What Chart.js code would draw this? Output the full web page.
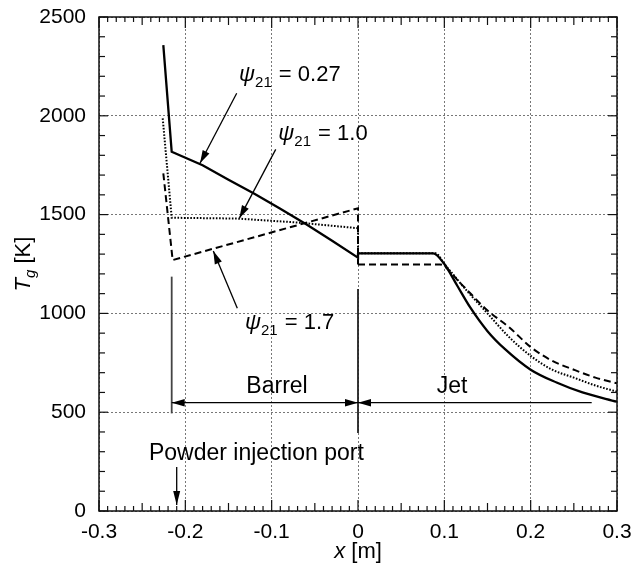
<!DOCTYPE html>
<html>
<head>
<meta charset="utf-8">
<script src="https://cdn.jsdelivr.net/npm/chart.js@4.4.1/dist/chart.umd.min.js"></script>
<style>
  html, body { margin: 0; padding: 0; background: #fff; }
  canvas { display: block; }
</style>
</head>
<body>
<canvas id="tg" width="633" height="574"></canvas>
<script>
// Gas temperature along the torch axis: barrel (x < 0) and free jet (x > 0)
const xTicks = [-0.3, -0.2, -0.1, 0, 0.1, 0.2, 0.3];
const xTickLabels = ['-0.3', '-0.2', '-0.1', '0', '0.1', '0.2', '0.3'];
const yTicks = [0, 500, 1000, 1500, 2000, 2500];
const yTickLabels = ['0', '500', '1000', '1500', '2000', '2500'];

// psi21 = 0.27 (solid); barrel ends with the step at the exit
const xBarrel027 = [-0.2255, -0.2158, -0.18, -0.15, -0.12, -0.09, -0.06, -0.03, 0, 0];
const tBarrel027 = [2358, 1818, 1750, 1676, 1605, 1530, 1451, 1368, 1282, 1304];
const xJet027 = [0, 0.087, 0.1, 0.115, 0.13, 0.15, 0.17, 0.2, 0.23, 0.26, 0.3];
const tJet027 = [1304, 1304, 1250, 1140, 1030, 910, 820, 715, 650, 600, 553];

// psi21 = 1.0 (dotted)
const xBarrel10 = [-0.2262, -0.2158, -0.14, -0.07, 0, 0];
const tBarrel10 = [1987, 1484, 1480, 1460, 1431, 1304];
const xJet10 = [0, 0.09, 0.1, 0.11, 0.125, 0.15, 0.175, 0.2, 0.225, 0.25, 0.275, 0.3];
const tJet10 = [1304, 1304, 1250, 1198, 1120, 1000, 880, 785, 715, 675, 635, 604];

// psi21 = 1.7 (dashed)
const xBarrel17 = [-0.2255, -0.2147, 0, 0];
const tBarrel17 = [1709, 1270, 1532, 1248];
const xJet17 = [0, 0.095, 0.105, 0.115, 0.126, 0.15, 0.175, 0.2, 0.225, 0.25, 0.275, 0.3];
const tJet17 = [1248, 1248, 1220, 1170, 1120, 1015, 930, 830, 760, 715, 675, 646];

const FONT = '"Liberation Sans", Arial, Helvetica, sans-serif';

function pts(xs, ys) {
  return xs.map((x, i) => ({x: x, y: ys[i]}));
}

function line(label, xs, ys, width, dash, smooth) {
  return {
    label: label,
    data: pts(xs, ys),
    showLine: true,
    borderColor: '#000',
    borderWidth: width,
    borderDash: dash,
    pointRadius: 0,
    tension: smooth ? 0.4 : 0,
    cubicInterpolationMode: smooth ? 'monotone' : 'default',
    fill: false
  };
}

// callouts and region markers, placed in data units
const notes = {
  psi: [
    {value: '0.27', tx: -0.1378, ty: 2178, ax: -0.1405, ay: 2114, bx: -0.183, by: 1760},
    {value: '1.0', tx: -0.0923, ty: 1877, ax: -0.0953, ay: 1830, bx: -0.1375, by: 1481},
    {value: '1.7', tx: -0.1309, ty: 919, ax: -0.1398, ay: 1026, bx: -0.1676, by: 1316}
  ],
  barrelStart: -0.2158,
  barrelLine: [1186, 494],
  exitLine: [1123, 395],
  arrowT: 548,
  jetEnd: 0.2707,
  labelT: 596,
  barrelTextX: -0.0938,
  jetTextX: 0.1089,
  portX: -0.21,
  portArrow: [223, 30],
  portText: {x: -0.2421, t: 258}
};

function arrowHead(ctx, x1, y1, x2, y2, len, half) {
  const a = Math.atan2(y2 - y1, x2 - x1);
  const c = Math.cos(a), s = Math.sin(a);
  ctx.beginPath();
  ctx.moveTo(x2, y2);
  ctx.lineTo(x2 - len * c + half * s, y2 - len * s - half * c);
  ctx.lineTo(x2 - len * c - half * s, y2 - len * s + half * c);
  ctx.closePath();
  ctx.fill();
}

function segment(ctx, x1, y1, x2, y2) {
  ctx.beginPath();
  ctx.moveTo(x1, y1);
  ctx.lineTo(x2, y2);
  ctx.stroke();
}

function psiLabel(ctx, x, y, value) {
  ctx.textAlign = 'left';
  ctx.textBaseline = 'alphabetic';
  ctx.font = 'italic 22px ' + FONT;
  ctx.fillText('\u03c8', x, y);
  let w = ctx.measureText('\u03c8').width;
  ctx.font = '15px ' + FONT;
  ctx.fillText('21', x + w, y + 6);
  w += ctx.measureText('21').width;
  ctx.font = '22px ' + FONT;
  ctx.fillText(' = ' + value, x + w + 1, y);
}

const framePlugin = {
  id: 'frame',
  afterDraw(chart) {
    const ctx = chart.ctx;
    const xs = chart.scales.x, ys = chart.scales.y;
    const a = chart.chartArea;
    const px = v => xs.getPixelForValue(v);
    const py = v => ys.getPixelForValue(v);

    ctx.save();
    ctx.strokeStyle = '#111';
    ctx.fillStyle = '#000';

    // frame
    ctx.lineWidth = 1.5;
    ctx.strokeRect(a.left, a.top, a.right - a.left, a.bottom - a.top);

    // inward ticks, x: every 0.01, half at 0.05, full at 0.1
    ctx.lineWidth = 1.2;
    for (let i = -30; i <= 30; i++) {
      const x = px(i / 100);
      const len = i % 10 === 0 ? 11 : (i % 5 === 0 ? 8 : 5);
      segment(ctx, x, a.bottom, x, a.bottom - len);
      segment(ctx, x, a.top, x, a.top + len);
    }
    // inward ticks, y: every 100 K, longer at 500 K
    for (let t = 0; t <= 2500; t += 100) {
      const y = py(t);
      const len = t % 500 === 0 ? 9 : 6;
      segment(ctx, a.left, y, a.left + len, y);
      segment(ctx, a.right, y, a.right - len, y);
    }

    // psi callouts
    ctx.lineWidth = 1.3;
    ctx.strokeStyle = '#000';
    notes.psi.forEach(n => {
      psiLabel(ctx, px(n.tx), py(n.ty), n.value);
      const x1 = px(n.ax), y1 = py(n.ay), x2 = px(n.bx), y2 = py(n.by);
      segment(ctx, x1, y1, x2, y2);
      arrowHead(ctx, x1, y1, x2, y2, 13, 3.8);
    });

    // barrel / jet markers
    const xb = px(notes.barrelStart), x0 = px(0), ya = py(notes.arrowT);
    ctx.strokeStyle = '#444';
    ctx.lineWidth = 1.8;
    segment(ctx, xb, py(notes.barrelLine[0]), xb, py(notes.barrelLine[1]));
    ctx.strokeStyle = '#222';
    segment(ctx, x0, py(notes.exitLine[0]), x0, py(notes.exitLine[1]));

    ctx.strokeStyle = '#000';
    ctx.lineWidth = 1.3;
    segment(ctx, xb, ya, x0, ya);
    arrowHead(ctx, x0, ya, xb, ya, 13, 3.8);
    arrowHead(ctx, xb, ya, x0, ya, 13, 3.8);
    const xj = px(notes.jetEnd);
    segment(ctx, x0, ya, xj, ya);
    arrowHead(ctx, xj, ya, x0, ya, 13, 3.8);

    ctx.font = '23px ' + FONT;
    ctx.textAlign = 'center';
    ctx.textBaseline = 'alphabetic';
    ctx.fillText('Barrel', px(notes.barrelTextX), py(notes.labelT));
    ctx.fillText('Jet', px(notes.jetTextX), py(notes.labelT));

    // powder injection port
    ctx.textAlign = 'left';
    ctx.fillText('Powder injection port', px(notes.portText.x), py(notes.portText.t));
    const xp = px(notes.portX);
    const yp1 = py(notes.portArrow[0]), yp2 = py(notes.portArrow[1]);
    segment(ctx, xp, yp1, xp, yp2);
    arrowHead(ctx, xp, yp1, xp, yp2, 14, 3.5);

    // axis titles
    ctx.textBaseline = 'alphabetic';
    ctx.font = 'italic 22px ' + FONT;
    const wx = ctx.measureText('x').width;
    ctx.font = '22px ' + FONT;
    const wm = ctx.measureText(' [m]').width;
    const sx = (a.left + a.right) / 2 - (wx + wm) / 2;
    ctx.font = 'italic 22px ' + FONT;
    ctx.fillText('x', sx, 558);
    ctx.font = '22px ' + FONT;
    ctx.fillText(' [m]', sx + wx, 558);

    ctx.translate(30, (a.top + a.bottom) / 2);
    ctx.rotate(-Math.PI / 2);
    ctx.font = 'italic 22px ' + FONT;
    const wT = ctx.measureText('T').width;
    ctx.font = 'italic 15px ' + FONT;
    const wg = ctx.measureText('g').width;
    ctx.font = '22px ' + FONT;
    const wK = ctx.measureText(' [K]').width;
    const s0 = -(wT + wg + wK) / 2;
    ctx.font = 'italic 22px ' + FONT;
    ctx.fillText('T', s0, 0);
    ctx.font = 'italic 15px ' + FONT;
    ctx.fillText('g', s0 + wT, 5);
    ctx.font = '22px ' + FONT;
    ctx.fillText(' [K]', s0 + wT + wg, 0);

    ctx.restore();
  }
};

const gridStyle = {color: '#777', lineWidth: 1, drawTicks: false};

new Chart(document.getElementById('tg'), {
  type: 'scatter',
  data: {
    datasets: [
      line('\u03c821 = 1.7', xBarrel17, tBarrel17, 2, [7, 4], false),
      line('\u03c821 = 1.7', xJet17, tJet17, 2, [7, 4], true),
      line('\u03c821 = 1.0', xBarrel10, tBarrel10, 2, [1.6, 1.6], false),
      line('\u03c821 = 1.0', xJet10, tJet10, 2, [1.6, 1.6], true),
      line('\u03c821 = 0.27', xBarrel027, tBarrel027, 2.3, [], false),
      line('\u03c821 = 0.27', xJet027, tJet027, 2.3, [], true)
    ]
  },
  options: {
    responsive: false,
    animation: false,
    layout: {padding: {top: 17, right: 16, left: 0, bottom: 0}},
    plugins: {legend: {display: false}, tooltip: {enabled: false}},
    scales: {
      x: {
        type: 'linear',
        min: -0.3,
        max: 0.3,
        afterBuildTicks: s => { s.ticks = xTicks.map(v => ({value: v})); },
        afterFit: s => {
          s.height = 63;
          s.paddingLeft = 0;
          s.paddingRight = 0;
        },
        ticks: {
          callback: (v, i) => xTickLabels[i],
          color: '#000',
          font: {family: FONT, size: 21},
          padding: 9,
          maxRotation: 0,
          autoSkip: false
        },
        grid: gridStyle,
        border: {display: false, dash: [2, 2]}
      },
      y: {
        type: 'linear',
        min: 0,
        max: 2500,
        afterBuildTicks: s => { s.ticks = yTicks.map(v => ({value: v})); },
        afterFit: s => {
          s.width = 99;
          s.paddingTop = 0;
          s.paddingBottom = 0;
        },
        ticks: {
          callback: (v, i) => yTickLabels[i],
          color: '#000',
          font: {family: FONT, size: 21},
          padding: 13
        },
        grid: gridStyle,
        border: {display: false, dash: [2, 2]}
      }
    }
  },
  plugins: [framePlugin]
});
</script>
</body>
</html>
